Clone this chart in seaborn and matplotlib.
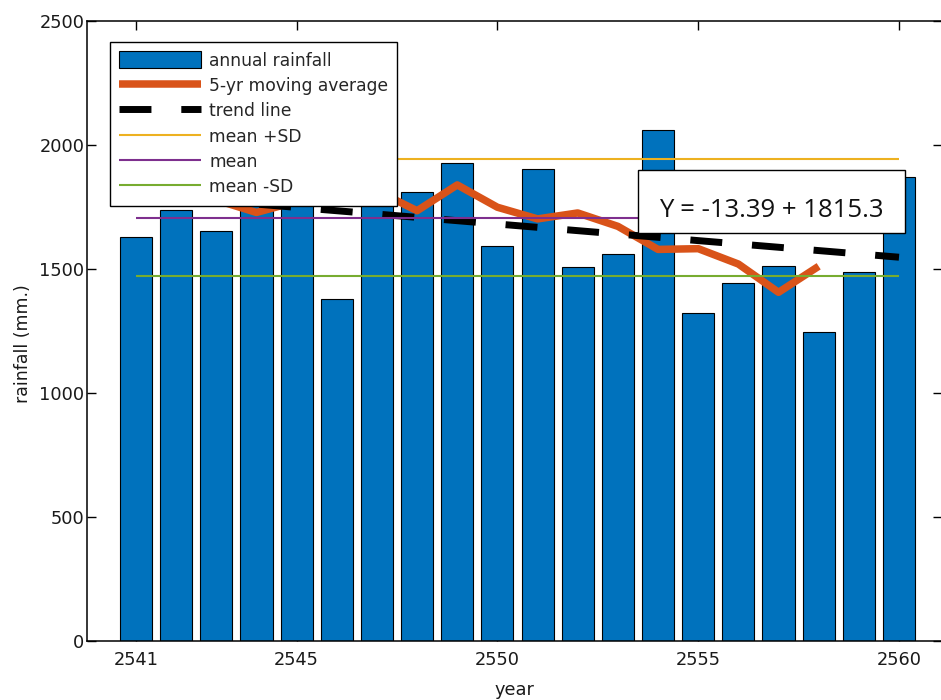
import numpy as np
import pandas as pd
import matplotlib
matplotlib.use("Agg")
import matplotlib.pyplot as plt
import seaborn as sns
from matplotlib.patches import Rectangle

# Annual rainfall by Thai year (B.E.)
years = list(range(2541, 2561))
rainfall = [1628, 1738, 1654, 1850, 2019, 1379, 1959, 1812, 1926, 1593,
            1905, 1509, 1560, 2060, 1321, 1442, 1513, 1247, 1489, 1872]

# Centred 5-year moving average
ma_years = list(range(2543, 2559))
moving_avg = [1778, 1728, 1772, 1804, 1815, 1735, 1839, 1749,
              1702, 1726, 1672, 1579, 1582, 1520, 1406, 1511]

# Linear trend  Y = slope * n + intercept,  n = 1..20
trend_slope = -13.39
trend_intercept = 1815.3
trend_label = "Y = -13.39 + 1815.3"

# Long-term mean and standard deviation
mean_rain = 1707
sd_rain = 235

x_ticks = [2541, 2545, 2550, 2555, 2560]
y_ticks = [0, 500, 1000, 1500, 2000, 2500]

BLUE = "#0072BD"
ORANGE = "#D95319"
YELLOW = "#EDB120"
PURPLE = "#7E2F8E"
GREEN = "#77AC30"

sns.set_theme(style="white")
plt.rcParams["font.family"] = ["DejaVu Sans"]
plt.rcParams["axes.edgecolor"] = "black"
plt.rcParams["lines.solid_capstyle"] = "butt"

W, H = 941, 700
fig = plt.figure(figsize=(W / 100, H / 100), dpi=100)
ax_left, ax_right, ax_top, ax_bot = 87.3, 942.0, 21.0, 641.0
ax_w, ax_h = ax_right - ax_left, ax_bot - ax_top
ax = fig.add_axes([ax_left / W, 1 - ax_bot / H, ax_w / W, ax_h / H])

df = pd.DataFrame({"year": years, "rainfall": rainfall})
sns.barplot(data=df, x="year", y="rainfall", native_scale=True, width=0.8,
            color=BLUE, saturation=1, edgecolor="black", linewidth=0.8,
            errorbar=None, ax=ax, label="annual rainfall", zorder=2)

sns.lineplot(x=ma_years, y=moving_avg, color=ORANGE, linewidth=5.4,
             ax=ax, label="5-yr moving average", zorder=3)
ax.lines[-1].set_solid_capstyle("butt")

n = np.arange(1, len(years) + 1)
trend = trend_intercept + trend_slope * n
sns.lineplot(x=years, y=trend, color="black", linewidth=5.0,
             ax=ax, label="trend line", zorder=3)
ax.lines[-1].set_linestyle((0, (4.6, 4.3)))
ax.lines[-1].set_dash_capstyle("butt")

span = [years[0], years[-1]]
sns.lineplot(x=span, y=[mean_rain + sd_rain] * 2, color=YELLOW, linewidth=1.5,
             ax=ax, label="mean +SD", zorder=3)
sns.lineplot(x=span, y=[mean_rain] * 2, color=PURPLE, linewidth=1.5,
             ax=ax, label="mean", zorder=3)
sns.lineplot(x=span, y=[mean_rain - sd_rain] * 2, color=GREEN, linewidth=1.5,
             ax=ax, label="mean -SD", zorder=3)

# Axes: box with inward ticks on all sides
px_per_year = (899 - 136) / 19
ax.set_xlim(2541 - (136 - ax_left) / px_per_year,
            2560 + (ax_right - 899) / px_per_year)
ax.set_ylim(0, 2500)
ax.set_xticks(x_ticks)
ax.set_xticklabels([str(t) for t in x_ticks])
ax.set_yticks(y_ticks)
ax.set_yticklabels([str(t) for t in y_ticks])
ax.tick_params(axis="both", which="both", direction="in", length=6.5,
               width=1.0, color="black", labelsize=12.8, labelcolor="#1a1a1a",
               top=True, right=True, bottom=True, left=True)
ax.tick_params(axis="x", pad=7)
ax.tick_params(axis="y", pad=2)
for sp in ax.spines.values():
    sp.set_visible(True)
    sp.set_linewidth(1.1)
    sp.set_color("black")
ax.grid(False)
ax.set_facecolor("white")

ax.set_xlabel("year", fontsize=12.8, color="#1a1a1a", labelpad=9)
ax.set_ylabel("rainfall (mm.)", fontsize=12.5, color="#1a1a1a")
ax.yaxis.set_label_coords((32 - ax_left) / ax_w, 1 - (344 - ax_top) / ax_h)

# Legend in the upper-left corner
handles, labels = ax.get_legend_handles_labels()
order = ["annual rainfall", "5-yr moving average", "trend line",
         "mean +SD", "mean", "mean -SD"]
hmap = dict(zip(labels, handles))
leg = ax.legend([hmap[l] for l in order], order, loc="upper left",
                bbox_to_anchor=((110 - ax_left) / ax_w,
                                1 - (42 - ax_top) / ax_h),
                borderaxespad=0, fontsize=12.3, frameon=True, fancybox=False,
                framealpha=1, edgecolor="black", handlelength=4.8,
                handleheight=1.15, handletextpad=0.45, labelspacing=0.415,
                borderpad=0.55)
leg.get_frame().set_linewidth(1.0)
leg.set_zorder(5)
for line in leg.get_lines():
    line.set_solid_capstyle("butt")

# Trend equation box
bx0 = (637.7 - ax_left) / ax_w
bx1 = (905.0 - ax_left) / ax_w
by1 = 1 - (170.0 - ax_top) / ax_h
by0 = 1 - (233.3 - ax_top) / ax_h
ax.add_patch(Rectangle((bx0, by0), bx1 - bx0, by1 - by0, transform=ax.transAxes,
                       facecolor="white", edgecolor="black", linewidth=1.0,
                       zorder=6))
ax.text((bx0 + bx1) / 2, 1 - (216.7 - ax_top) / ax_h, trend_label,
        transform=ax.transAxes, ha="center", va="baseline",
        fontsize=18.5, family=["Open Sans", "DejaVu Sans"], color="#111111",
        zorder=7)

fig.savefig("out.png", dpi=100)
